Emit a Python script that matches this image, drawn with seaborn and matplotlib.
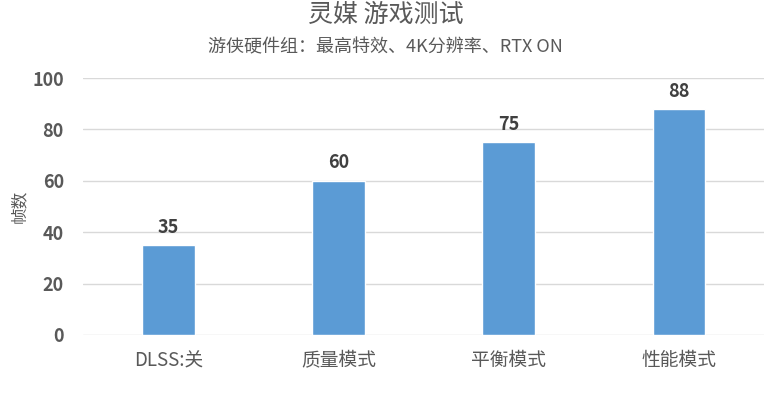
import matplotlib
matplotlib.use("Agg")
import matplotlib.pyplot as plt
import seaborn as sns
import pandas as pd

# ------------------------------
# data
# ------------------------------
categories = ["DLSS:关", "质量模式", "平衡模式", "性能模式"]
fps = [35, 60, 75, 88]
y_ticks = [0, 20, 40, 60, 80, 100]

title = "灵媒 游戏测试"
subtitle = "游侠硬件组：最高特效、4K分辨率、RTX ON"
y_label = "帧数"

sns.set_theme(style="white")
plt.rcParams["font.family"] = ["Noto Sans CJK SC", "DejaVu Sans"]

df = pd.DataFrame({"mode": categories, "fps": fps})

fig = plt.figure(figsize=(7.71, 4.0), dpi=100)
ax = fig.add_axes([0.108, 0.1625, 0.883, 0.6425])

sns.barplot(data=df, x="mode", y="fps", color="#5B9BD5", saturation=1,
            width=0.31, ax=ax, zorder=3)

ax.set_ylim(0, 100)
ax.set_yticks(y_ticks)
ax.yaxis.grid(True, color="#D9D9D9", linewidth=1, zorder=0)
ax.set_axisbelow(True)
for s in ax.spines.values():
    s.set_visible(False)
ax.tick_params(axis="both", length=0)
ax.tick_params(axis="y", labelsize=13, labelcolor="#595959", pad=14)
ax.tick_params(axis="x", labelsize=13.5, labelcolor="#595959", pad=11)
for t in ax.get_yticklabels():
    t.set_fontweight("bold")

ax.set_xlabel("")
ax.set_ylabel(y_label, fontsize=12, color="#595959", va="center")
ax.yaxis.set_label_coords(-0.094, 0.5)

for c in ax.containers:
    ax.bar_label(c, fmt="%d", padding=6, fontsize=13, fontweight="bold",
                 color="#404040")

fig.text(0.5, 0.962, title, ha="center", va="center", fontsize=18,
         color="#595959")
fig.text(0.5, 0.882, subtitle, ha="center", va="center", fontsize=13,
         color="#595959")

fig.savefig("out.png", dpi=100, facecolor="white")
